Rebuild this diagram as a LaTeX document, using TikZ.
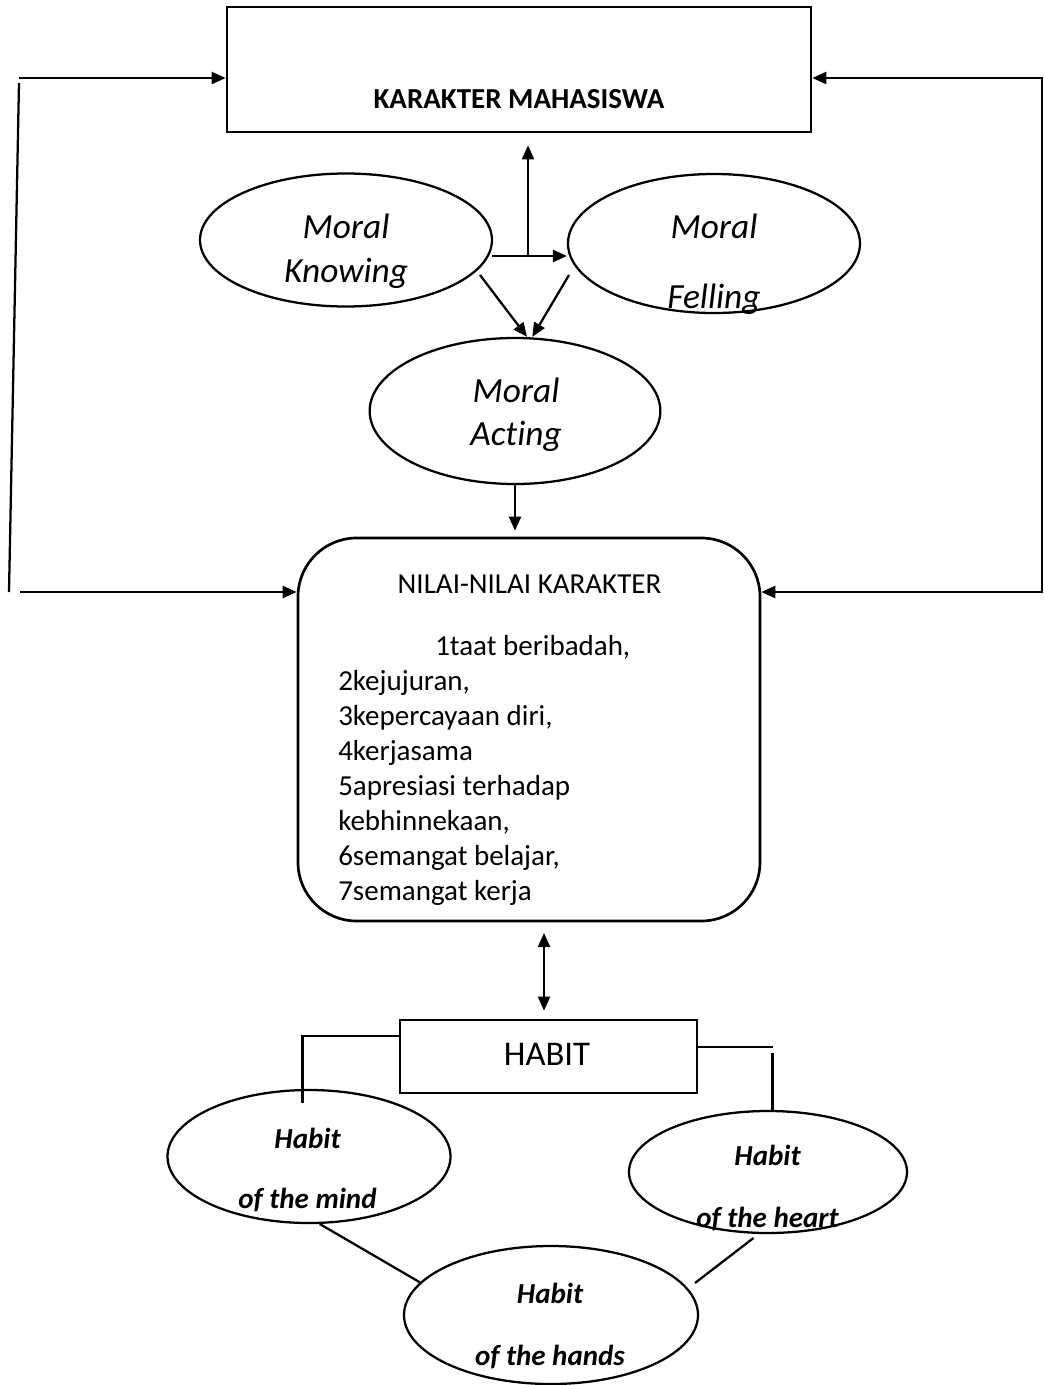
\documentclass[tikz,border=0pt]{standalone}
\usepackage{fontspec}
\setmainfont{Carlito}[Ligatures=NoCommon]
\usetikzlibrary{shapes.geometric,arrows.meta}

\tikzset{
  box/.style={draw, line width=2pt, inner sep=0pt},
  oval/.style={draw, ellipse, line width=1.7pt, inner sep=0pt},
  conn/.style={line width=1.7pt},
  arr/.style={conn, -{Triangle[length=10.5pt,width=9pt]}},
  darr/.style={conn, {Triangle[length=10.5pt,width=9pt]}-{Triangle[length=10.5pt,width=9pt]}},
  txt/.style={anchor=base, inner sep=0pt, font=\fontsize{21.75}{26}\selectfont},
  moral/.style={anchor=base, inner sep=0pt, font=\fontsize{26.5}{30}\selectfont\itshape},
  hab/.style={txt, font=\fontsize{21.75}{26}\selectfont\bfseries\itshape},
}

\begin{document}
\begin{tikzpicture}[x=0.75pt,y=0.75pt,yscale=-1,xscale=1]
\useasboundingbox (0,0) rectangle (1043,1385);

%Shape: Rectangle
\node[box, minimum width=438pt, minimum height=93.75pt] (kar) at (519,69.5) {};
% Text Node
\node[txt, font=\fontsize{21.75}{26}\selectfont\bfseries] (kartext) at (519,108) {KARAKTER MAHASISWA};

%Shape: Ellipse
\node[oval, minimum width=219pt, minimum height=99.75pt] (knowing) at (346,240) {};
\node[oval, minimum width=219pt, minimum height=104.25pt] (felling) at (714,243.5) {};
\node[oval, minimum width=218pt, minimum height=109.5pt] (acting) at (515,411) {};
% Text Node
\node[moral] (knowing1) at (346,238) {Moral};
\node[moral] (knowing2) at (346,282) {Knowing};
\node[moral] (felling1) at (714,238) {Moral};
\node[moral] (felling2) at (714,308) {Felling};
\node[moral] (acting1) at (516,402) {Moral};
\node[moral] (acting2) at (516,445) {Acting};

%Shape: Rounded Rect
\node[box, rounded corners=44pt, minimum width=346.5pt, minimum height=287.25pt] (nilai) at (529,729.5) {};
% Text Node
\node[txt] (nilaititle) at (529.5,593) {NILAI-NILAI KARAKTER};
\node[txt, anchor=base west] (val0) at (435,655) {1taat beribadah,};
\foreach \val [count=\i] in {{2kejujuran,},{3kepercayaan diri,},{4kerjasama},{5apresiasi terhadap},{kebhinnekaan,},{6semangat belajar,},{7semangat kerja}}
  \node[txt, anchor=base west] (val\i) at (338,{690+(\i-1)*35}) {\val};

%Shape: Rectangle
\node[box, minimum width=222.75pt, minimum height=54.75pt] (habit) at (548.5,1056.5) {};
% Text Node
\node[txt, font=\fontsize{26}{30}\selectfont] (habittext) at (547,1065) {HABIT};

%Shape: Ellipse
\node[oval, minimum width=212.25pt, minimum height=99.75pt] (mind) at (309,1156.5) {};
\node[oval, minimum width=208.5pt, minimum height=91.5pt] (heart) at (768,1172) {};
\node[oval, minimum width=220.5pt, minimum height=103.5pt] (hands) at (551,1315) {};
% Text Node
\node[hab] (mind1) at (307.5,1148) {Habit};
\node[hab] (mind2) at (307.5,1208) {of the mind};
\node[hab] (heart1) at (767.5,1165) {Habit};
\node[hab] (heart2) at (767.5,1227) {of the heart};
\node[hab] (hands1) at (550,1303) {Habit};
\node[hab] (hands2) at (550,1365) {of the hands};

%Straight Lines (left loop)
\coordinate (lt) at (19,78);
\coordinate (lv1) at (19,83);
\coordinate (lv2) at (9,592);
\coordinate (lb) at (20,592);
\draw[arr] (lt) -- (lt -| kar.west);
\draw[conn] (lv1) -- (lv2);
\draw[arr] (lb) -- (lb -| nilai.west);
%Straight Lines (right loop)
\coordinate (rt) at (1043,78);
\coordinate (rv1) at (1042,78);
\coordinate (rv2) at (1042,592);
\coordinate (rb) at (1043,592);
\draw[arr] (rt) -- (rt -| kar.east);
\draw[conn] (rv1) -- (rv2);
\draw[arr] (rb) -- (rb -| nilai.east);

%Straight Lines (moral)
\coordinate (ks) at (492,256);
\coordinate (jn) at (528,256);
\draw[arr] (ks) -- (ks -| felling.west);
\draw[arr, shorten >=9pt] (jn) -- (jn |- kar.south);
\coordinate (da1) at (480,275);
\coordinate (da2) at (569,275);
\draw[arr] (da1) -- ([xshift=9pt]acting.north);
\draw[arr] (da2) -- ([xshift=13pt]acting.north);
\draw[arr, shorten >=4.5pt] (acting.south) -- (acting.south |- nilai.north);

%Straight Lines (habit)
\coordinate (dbl) at (544,0);
\draw[darr, shorten <=8pt, shorten >=6pt] (dbl |- nilai.south) -- (dbl |- habit.north);
\coordinate (hl) at (302.5,1036);
\draw[conn] (hl -| habit.west) -- (hl) -- ++(0,67);
\coordinate (hr) at (772.5,1047);
\coordinate (hrv) at (772.5,1053);
\draw[conn] (hr -| habit.east) -- (hr);
\draw[conn] (hrv) -- (hrv |- heart.north);
\draw[conn] (mind.-81) -- (hands.166);
\coordinate (ht1) at (753.5,1238);
\coordinate (ht2) at (695,1283);
\draw[conn] (ht1) -- (ht2);

\end{tikzpicture}
\end{document}
